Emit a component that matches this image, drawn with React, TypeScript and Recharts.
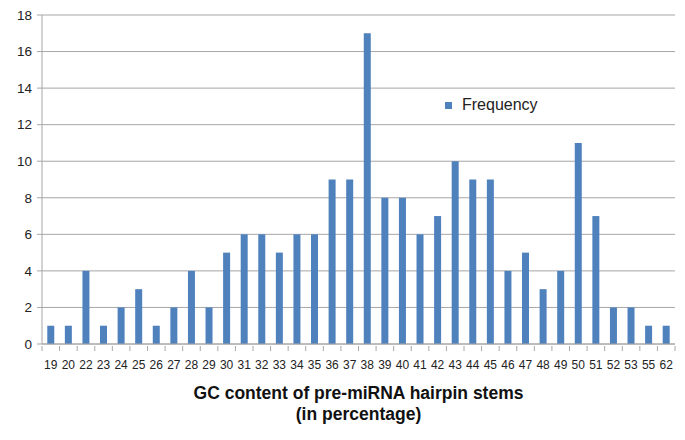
import { BarChart, Bar, XAxis, YAxis, CartesianGrid, Legend } from 'recharts'

const categories = ['19', '20', '22', '23', '24', '25', '26', '27', '28', '29', '30', '31', '32', '33', '34', '35', '36', '37', '38', '39', '40', '41', '42', '43', '44', '45', '46', '47', '48', '49', '50', '51', '52', '53', '55', '62']
const frequency = [1, 1, 4, 1, 2, 3, 1, 2, 4, 2, 5, 6, 6, 5, 6, 6, 9, 9, 17, 8, 8, 6, 7, 10, 9, 9, 4, 5, 3, 4, 11, 7, 2, 2, 1, 1]
const yTicks = [0, 2, 4, 6, 8, 10, 12, 14, 16, 18]

const data = categories.map((gc, i) => ({ gc, Frequency: frequency[i] }))

const FONT = '"Liberation Sans", Arial, sans-serif'
const BAR_COLOR = '#4F81BD'
const GRID = '#A6A6A6'

// tick marks sit on the category boundaries, like Excel
const XTick = (props: any) => {
  const { x, y, payload, index } = props
  const half = payload.offset ?? 0
  const last = index === categories.length - 1
  return (
    <g>
      <line x1={x - half} x2={x - half} y1={y} y2={y + 5} stroke={GRID} />
      {last && <line x1={x + half} x2={x + half} y1={y} y2={y + 5} stroke={GRID} />}
      <text x={x} y={y + 23} textAnchor="middle" fontSize={12} fill="#222" fontFamily={FONT}>
        {payload.value}
      </text>
    </g>
  )
}

const AxisTitle = (props: any) => {
  const { viewBox } = props
  const cx = viewBox.x + viewBox.width / 2
  return (
    <text x={cx} textAnchor="middle" fontSize={17.5} fontWeight="bold" fill="#111" fontFamily={FONT}>
      <tspan x={cx} y={399}>GC content of pre-miRNA hairpin stems</tspan>
      <tspan x={cx} y={420}>(in percentage)</tspan>
    </text>
  )
}

const LegendBox = () => (
  <div style={{ display: 'flex', alignItems: 'center', fontFamily: FONT, fontSize: 16, color: '#222' }}>
    <span style={{ width: 7, height: 7, background: BAR_COLOR, marginRight: 10, display: 'inline-block' }} />
    Frequency
  </div>
)

export default function App() {
  return (
    <div style={{ position: 'absolute', left: 0, top: 0, background: '#fff' }}>
      <BarChart
        width={685}
        height={440}
        data={data}
        margin={{ top: 15, right: 10, left: 0, bottom: 0 }}
        barCategoryGap="30%"
      >
        <CartesianGrid vertical={false} stroke={GRID} />
        <XAxis
          dataKey="gc"
          interval={0}
          height={78}
          tickLine={false}
          tickSize={0}
          axisLine={{ stroke: GRID }}
          tick={<XTick />}
          label={<AxisTitle />}
        />
        <YAxis
          width={42}
          domain={[0, 18]}
          ticks={yTicks}
          interval={0}
          axisLine={{ stroke: GRID }}
          tickLine={{ stroke: GRID }}
          tickSize={5}
          tick={{ fontSize: 13.5, fill: '#222', fontFamily: FONT, dx: -3 }}
        />
        <Legend
          content={<LegendBox />}
          wrapperStyle={{ position: 'absolute', left: 445, top: 96, width: 'auto' }}
        />
        <Bar dataKey="Frequency" fill={BAR_COLOR} isAnimationActive={false} />
      </BarChart>
    </div>
  )
}
